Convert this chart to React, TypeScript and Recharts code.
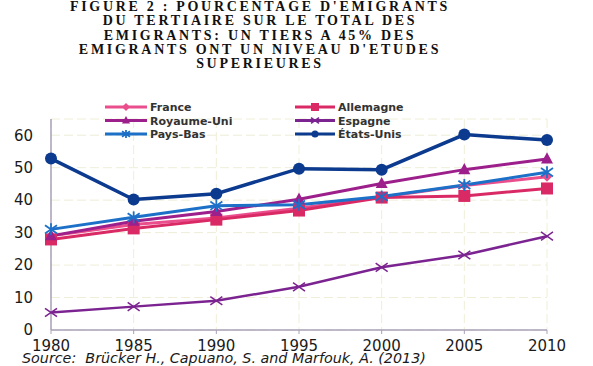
import React from "react";
import { LineChart, Line, XAxis, YAxis, CartesianGrid } from "recharts";

// values (% of tertiary-educated emigrants)
const years = [1980, 1985, 1990, 1995, 2000, 2005, 2010];
const france = [29, 32.5, 34.5, 37.5, 41, 44.5, 47.2];
const allemagne = [27.9, 31.3, 34, 36.8, 40.8, 41.3, 43.6];
const royaumeUni = [29, 33.5, 36.5, 40.3, 45.1, 49.4, 52.7];
const espagne = [5.4, 7.2, 9, 13.3, 19.3, 23.1, 28.9];
const paysBas = [31, 34.7, 38.3, 38.6, 41.1, 44.7, 48.6];
const etatsUnis = [52.8, 40.2, 42, 49.7, 49.4, 60.2, 58.5];
const yTicks = [0, 10, 20, 30, 40, 50, 60];

const titleLines = [
  "FIGURE 2 : POURCENTAGE D'EMIGRANTS",
  "DU TERTIAIRE SUR LE TOTAL DES",
  "EMIGRANTS: UN TIERS A 45% DES",
  "EMIGRANTS ONT UN NIVEAU D'ETUDES",
  "SUPERIEURES",
];
const sourceText = "Source:  Brücker H., Capuano, S. and Marfouk, A. (2013)";

type Shape = "diamond" | "square" | "triangle" | "cross" | "star" | "circle";

const series: { key: string; name: string; color: string; shape: Shape; values: number[]; width: number }[] = [
  { key: "fr", name: "France", color: "#EA4E8C", shape: "diamond", values: france, width: 3 },
  { key: "de", name: "Allemagne", color: "#DA2A66", shape: "square", values: allemagne, width: 3 },
  { key: "uk", name: "Royaume-Uni", color: "#9C1F8B", shape: "triangle", values: royaumeUni, width: 3 },
  { key: "es", name: "Espagne", color: "#7B2390", shape: "cross", values: espagne, width: 2.5 },
  { key: "nl", name: "Pays-Bas", color: "#1D70C8", shape: "star", values: paysBas, width: 3 },
  { key: "us", name: "États-Unis", color: "#0B3A8E", shape: "circle", values: etatsUnis, width: 3.5 },
];

const data = years.map((year, i) => {
  const row: Record<string, number> = { year };
  series.forEach((s) => (row[s.key] = s.values[i]));
  return row;
});

const Marker = ({ shape, cx, cy, color, s }: { shape: Shape; cx: number; cy: number; color: string; s: number }) => {
  switch (shape) {
    case "diamond":
      return <polygon points={`${cx},${cy - s} ${cx + s},${cy} ${cx},${cy + s} ${cx - s},${cy}`} fill={color} />;
    case "square":
      return <rect x={cx - s} y={cy - s} width={2 * s} height={2 * s} fill={color} />;
    case "triangle":
      return <polygon points={`${cx},${cy - s * 1.1} ${cx + s},${cy + s * 0.75} ${cx - s},${cy + s * 0.75}`} fill={color} />;
    case "cross":
      return (
        <g stroke={color} strokeWidth={1.5}>
          <line x1={cx - s} y1={cy - s * 0.7} x2={cx + s} y2={cy + s * 0.7} />
          <line x1={cx - s} y1={cy + s * 0.7} x2={cx + s} y2={cy - s * 0.7} />
        </g>
      );
    case "star":
      return (
        <g stroke={color} strokeWidth={1.8}>
          <line x1={cx - s} y1={cy - s * 0.7} x2={cx + s} y2={cy + s * 0.7} />
          <line x1={cx - s} y1={cy + s * 0.7} x2={cx + s} y2={cy - s * 0.7} />
          <line x1={cx} y1={cy - s} x2={cx} y2={cy + s} />
        </g>
      );
    default:
      return <circle cx={cx} cy={cy} r={s} fill={color} />;
  }
};

const dotSize: Record<Shape, number> = { diamond: 5, square: 6, triangle: 6, cross: 6, star: 6, circle: 6 };

const legendOrder = ["fr", "de", "uk", "es", "nl", "us"];

const ChartLegend = () => (
  <svg width={320} height={46} style={{ position: "absolute", left: 100, top: 98 }}>
    {legendOrder.map((k, i) => {
      const s = series.find((x) => x.key === k)!;
      const col = i % 2;
      const row = Math.floor(i / 2);
      const x0 = col === 0 ? 5 : 195;
      const x1 = col === 0 ? 47 : 235;
      const y = 9 + row * 13.5;
      return (
        <g key={k}>
          <line x1={x0} y1={y} x2={x1} y2={y} stroke={s.color} strokeWidth={3} />
          <Marker shape={s.shape} cx={(x0 + x1) / 2} cy={y} color={s.color} s={s.shape === "circle" ? 3.5 : 4} />
          <text x={x1 + 3} y={y + 4} fontSize={11} fontWeight="bold" fill="#333" fontFamily="DejaVu Sans">
            {s.name}
          </text>
        </g>
      );
    })}
  </svg>
);

const App = () => {
  return (
    <div style={{ position: "absolute", left: 0, top: 0, width: 593, height: 366, background: "#fff", overflow: "hidden" }}>
      <div
        style={{
          position: "absolute",
          left: 0,
          top: 0,
          width: 520,
          textAlign: "center",
          fontFamily: "Liberation Serif",
          fontWeight: "bold",
          fontSize: 14,
          letterSpacing: 2.7,
          lineHeight: "14.3px",
          color: "#111",
        }}
      >
        {titleLines.map((l) => (
          <div key={l}>{l}</div>
        ))}
      </div>
      <LineChart width={593} height={366} data={data} margin={{ top: 119, right: 46, left: 11, bottom: 6 }}>
        <CartesianGrid stroke="#EEEED8" strokeDasharray="9 4" />
        <XAxis
          dataKey="year"
          type="number"
          domain={[1980, 2010]}
          ticks={years}
          height={30}
          axisLine={{ stroke: "#A9A1B9", strokeWidth: 1.5 }}
          tickLine={{ stroke: "#A9A1B9" }}
          tickSize={4}
          tickMargin={6}
          tick={{ fontSize: 15, fill: "#1a1a1a", fontFamily: "DejaVu Sans" }}
        />
        <YAxis
          domain={[0, 65]}
          ticks={yTicks}
          width={40}
          axisLine={{ stroke: "#A9A1B9", strokeWidth: 1.5 }}
          tickLine={false}
          tickSize={0}
          tickMargin={18}
          tick={{ fontSize: 15, fill: "#1a1a1a", fontFamily: "DejaVu Sans" }}
        />
        {series.map((s) => (
          <Line
            key={s.key}
            dataKey={s.key}
            name={s.name}
            stroke={s.color}
            strokeWidth={s.width}
            isAnimationActive={false}
            dot={(p: any) => (
              <Marker key={`${s.key}-${p.index}`} shape={s.shape} cx={p.cx} cy={p.cy} color={s.color} s={dotSize[s.shape]} />
            )}
            activeDot={false}
          />
        ))}
      </LineChart>
      <ChartLegend />
      <div
        style={{
          position: "absolute",
          left: 22,
          top: 351,
          fontFamily: "DejaVu Sans",
          fontStyle: "italic",
          fontSize: 14.3,
          color: "#1a1a1a",
          whiteSpace: "pre",
          lineHeight: "15px",
        }}
      >
        {sourceText}
      </div>
    </div>
  );
};

export default App;
